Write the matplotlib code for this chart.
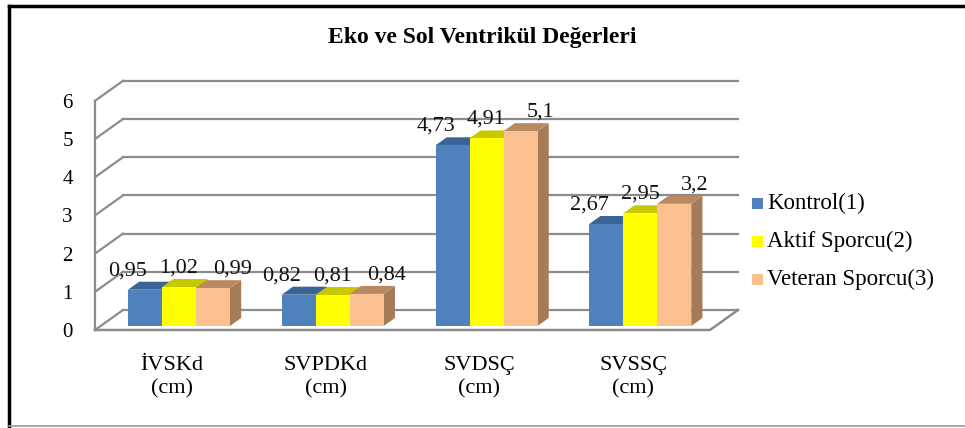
import matplotlib.pyplot as plt
from matplotlib.patches import Polygon

plt.rcParams['font.family'] = ['Liberation Serif', 'DejaVu Serif']

# data
categories = ['İVSKd\n(cm)', 'SVPDKd\n(cm)', 'SVDSÇ\n(cm)', 'SVSSÇ\n(cm)']
series_names = ['Kontrol(1)', 'Aktif Sporcu(2)', 'Veteran Sporcu(3)']
kontrol = [0.95, 0.82, 4.73, 2.67]
aktif = [1.02, 0.81, 4.91, 2.95]
veteran = [0.99, 0.84, 5.1, 3.2]
y_ticks = [0, 1, 2, 3, 4, 5, 6]

front_colors = ['#4F81BD', '#FFFF00', '#FAC090']
top_colors = ['#3B6496', '#C8C800', '#B98A62']
side_colors = ['#2F5078', '#A8A800', '#A67C58']
grid_color = '#8C8C8C'

W, H = 965, 428
fig = plt.figure(figsize=(W / 100, H / 100), dpi=100)

# axes = front plane of the floor (x: category index, y: value)
ax_left, ax_right = 95, 710
ax_bottom, px_per_unit = 330, 38.2
ax = fig.add_axes([ax_left / W, (H - ax_bottom) / H,
                   (ax_right - ax_left) / W, 6 * px_per_unit / H])
ax.set_xlim(-0.5, 3.5)
ax.set_ylim(0, 6)
for s in ax.spines.values():
    s.set_visible(False)

px_x = (ax_right - ax_left) / 4.0
DX = 28 / px_x          # full depth shift in x units
DY = 20 / px_per_unit   # full depth shift in y units

# back wall gridlines + left wall diagonals
for k in y_ticks:
    ax.plot([-0.5 + DX, 3.5 + DX], [k + DY, k + DY], color=grid_color,
            lw=1.6, clip_on=False, zorder=1)
    ax.plot([-0.5, -0.5 + DX], [k, k + DY], color=grid_color,
            lw=1.6, clip_on=False, zorder=1)
# left vertical edge and floor
ax.plot([-0.5, -0.5], [0, 6], color=grid_color, lw=1.6, clip_on=False, zorder=1)
ax.plot([-0.5, 3.5, 3.5 + DX], [0, 0, DY], color=grid_color, lw=1.8,
        clip_on=False, zorder=1)

# 3d-looking bars
bar_w = 34 / px_x
f0, f1 = 0.2, 0.6
ddx, ddy = (f1 - f0) * DX, (f1 - f0) * DY
label_dx = [-17, 0, 20]
series = [kontrol, aktif, veteran]
for i in range(len(categories)):
    for j, vals in enumerate(series):
        v = vals[i]
        x0 = i - 1.5 * bar_w + j * bar_w + f0 * DX + 0.01
        y0 = f0 * DY
        top = y0 + v
        front = [(x0, y0), (x0 + bar_w, y0), (x0 + bar_w, top), (x0, top)]
        topf = [(x0, top), (x0 + bar_w, top), (x0 + bar_w + ddx, top + ddy),
                (x0 + ddx, top + ddy)]
        side = [(x0 + bar_w, y0), (x0 + bar_w + ddx, y0 + ddy),
                (x0 + bar_w + ddx, top + ddy), (x0 + bar_w, top)]
        z = 2 + j
        ax.add_patch(Polygon(side, closed=True, facecolor=side_colors[j],
                             edgecolor='none', clip_on=False, zorder=z))
        ax.add_patch(Polygon(topf, closed=True, facecolor=top_colors[j],
                             edgecolor='none', clip_on=False, zorder=z))
        ax.add_patch(Polygon(front, closed=True, facecolor=front_colors[j],
                             edgecolor='none', clip_on=False, zorder=z))
        ax.annotate(f'{v:g}'.replace('.', ','), (x0 + bar_w / 2, top),
                    xytext=(label_dx[j] * 0.72, 19 * 0.72),
                    textcoords='offset points', ha='center', va='center',
                    fontsize=16, color='#111111', zorder=10,
                    annotation_clip=False)

ax.set_yticks(y_ticks)
ax.set_yticklabels([str(t) for t in y_ticks], fontsize=15)
ax.set_xticks(range(len(categories)))
ax.set_xticklabels(categories, fontsize=16, linespacing=1.25)
ax.tick_params(axis='y', length=0, pad=16)
ax.tick_params(axis='x', length=0, pad=19)

fig.text(0.5, (H - 37) / H, 'Eko ve Sol Ventrikül Değerleri', ha='center',
         va='center', fontsize=17, fontweight='bold')

# legend
for j, name in enumerate(series_names):
    yc = (H - (203 + 38 * j)) / H
    fig.patches.append(plt.Rectangle((752 / W, yc - 5.5 / H), 11 / W, 11 / H,
                                     transform=fig.transFigure,
                                     facecolor=front_colors[j], edgecolor='none'))
    fig.text(767 / W, yc, name, ha='left', va='center', fontsize=16.5)

# outer frame
fig.add_artist(plt.Line2D([9 / W, 9 / W], [0, (H - 6) / H], color='black', lw=2.5))
fig.add_artist(plt.Line2D([9 / W, 1], [(H - 6) / H, (H - 6) / H], color='black', lw=2.5))
fig.add_artist(plt.Line2D([9 / W, 1], [2 / H, 2 / H], color='#999999', lw=1.2))

fig.savefig('out.png', dpi=100)
